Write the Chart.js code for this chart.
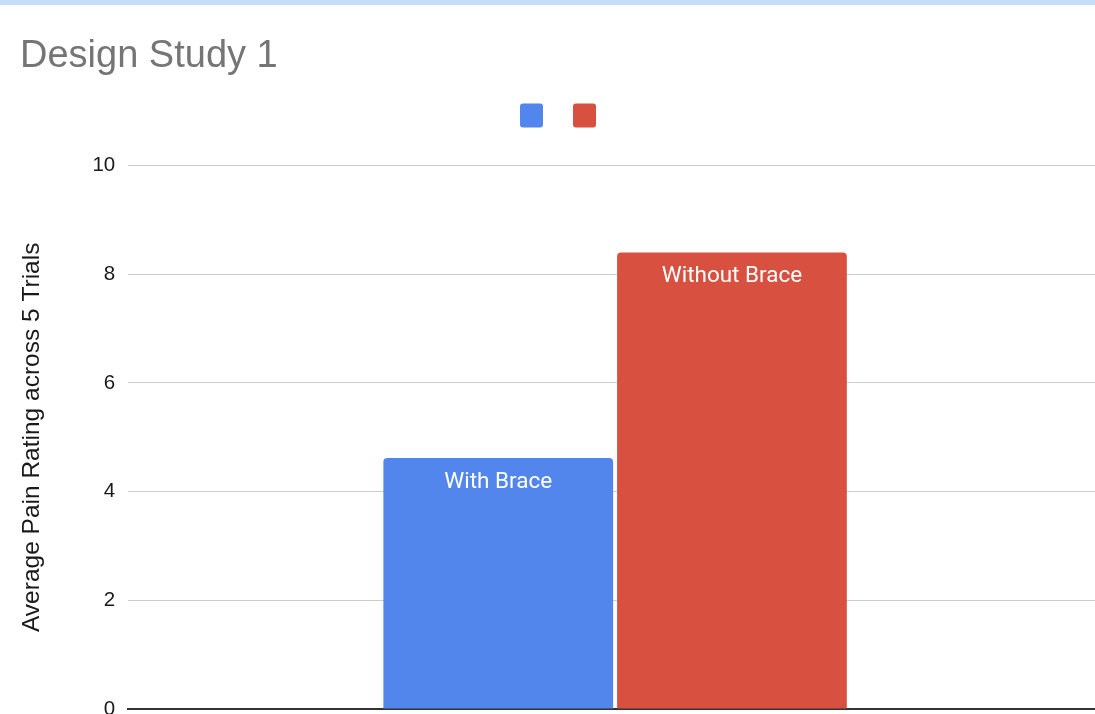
<!DOCTYPE html>
<html>
<head>
<meta charset="utf-8">
<script src="https://cdn.jsdelivr.net/npm/chart.js@4"></script>
<style>
  html, body { margin: 0; padding: 0; background: #fff; overflow: hidden; }
  #band { position: absolute; top: 0; left: 0; width: 100%; height: 5px; background: #c5dcfb; z-index: 2; }
  #wrap { position: absolute; top: 0; left: 0; width: 1102px; height: 740px; }
</style>
</head>
<body>
<div id="band"></div>
<div id="wrap"><canvas id="chart"></canvas></div>
<script>
// --- chart data ---
const categories = [''];
const seriesNames = ['With Brace', 'Without Brace'];
const withBrace = [4.62];
const withoutBrace = [8.4];
const seriesColors = ['#5386ec', '#d85140'];
const yTickValues = [0, 2, 4, 6, 8, 10];

// empty strip between the legend and the plot
const legendGap = {
  id: 'legendGap',
  beforeInit(chart) {
    Chart.layouts.addBox(chart, {
      position: 'top',
      weight: 500,
      fullSize: true,
      options: {},
      isHorizontal() { return true; },
      update(maxWidth) { this.width = maxWidth; this.height = 28; },
      draw() {}
    });
  }
};

// labels inside the top of each bar
const barLabels = {
  id: 'barLabels',
  afterDatasetsDraw(chart) {
    const ctx = chart.ctx;
    ctx.save();
    ctx.fillStyle = '#ffffff';
    ctx.font = '22.5px Roboto, "Liberation Sans", Arial, sans-serif';
    ctx.textAlign = 'center';
    ctx.textBaseline = 'middle';
    chart.data.datasets.forEach((ds, i) => {
      const meta = chart.getDatasetMeta(i);
      meta.data.forEach(bar => {
        ctx.fillText(ds.label, bar.x, bar.y + 24);
      });
    });
    ctx.restore();
  }
};

new Chart(document.getElementById('chart'), {
  type: 'bar',
  data: {
    labels: categories,
    datasets: [
      { label: seriesNames[0], data: withBrace, backgroundColor: seriesColors[0] },
      { label: seriesNames[1], data: withoutBrace, backgroundColor: seriesColors[1] }
    ]
  },
  options: {
    responsive: true,
    maintainAspectRatio: false,
    animation: false,
    categoryPercentage: 0.48,
    barPercentage: 0.983,
    borderRadius: { topLeft: 4, topRight: 4 },
    borderSkipped: 'start',
    layout: { padding: { left: 20, right: 0, top: 0, bottom: 23 } },
    plugins: {
      title: {
        display: true,
        text: 'Design Study 1',
        align: 'start',
        color: '#757575',
        font: { family: '"Liberation Sans", Arial, sans-serif', size: 38, weight: 'normal' },
        padding: { top: 34, bottom: 0 }
      },
      legend: {
        display: true,
        labels: {
          boxWidth: 23,
          boxHeight: 24,
          padding: 24,
          font: { size: 12 },
          generateLabels(chart) {
            return chart.data.datasets.map((ds, i) => ({
              text: '',
              fillStyle: ds.backgroundColor,
              strokeStyle: ds.backgroundColor,
              lineWidth: 0,
              borderRadius: 3,
              datasetIndex: i
            }));
          }
        }
      },
      tooltip: { enabled: false }
    },
    scales: {
      x: {
        grid: { display: false },
        ticks: { display: false },
        border: { display: true, color: '#333333', width: 2 }
      },
      y: {
        min: yTickValues[0],
        max: yTickValues[yTickValues.length - 1],
        afterBuildTicks(scale) {
          scale.ticks = yTickValues.map(v => ({ value: v }));
        },
        grid: { color: '#cccccc', lineWidth: 1, drawTicks: false },
        border: { display: false },
        ticks: {
          padding: 13,
          color: '#1a1a1a',
          font: { family: '"Liberation Sans", Arial, sans-serif', size: 20.5 }
        },
        title: {
          display: true,
          text: 'Average Pain Rating across 5 Trials',
          color: '#1a1a1a',
          font: { family: '"Liberation Sans", Arial, sans-serif', size: 24.5 },
          padding: { top: -2, bottom: 32 }
        }
      }
    }
  },
  plugins: [legendGap, barLabels]
});
</script>
</body>
</html>
